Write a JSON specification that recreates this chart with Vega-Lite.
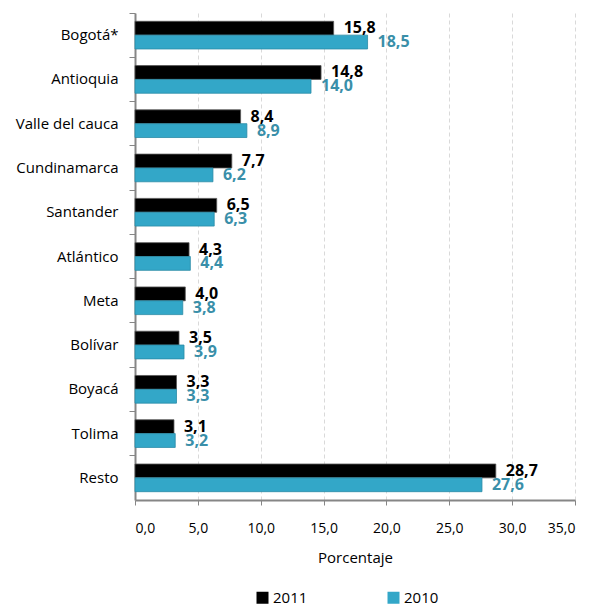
{
  "$schema": "https://vega.github.io/schema/vega-lite/v6.json",
  "width": 440,
  "height": 487,
  "autosize": {"type": "none"},
  "padding": {"left": 135, "top": 13, "right": 16, "bottom": 108},
  "config": {
    "locale": {"number": {"decimal": ",", "thousands": ".", "grouping": [3], "currency": ["$", ""]}},
    "view": {"stroke": null},
    "font": "Open Sans"
  },
  "data": {
    "values": [
      {"dep": "Bogotá*", "year": "2011", "value": 15.8},
      {"dep": "Bogotá*", "year": "2010", "value": 18.5},
      {"dep": "Antioquia", "year": "2011", "value": 14.8},
      {"dep": "Antioquia", "year": "2010", "value": 14.0},
      {"dep": "Valle del cauca", "year": "2011", "value": 8.4},
      {"dep": "Valle del cauca", "year": "2010", "value": 8.9},
      {"dep": "Cundinamarca", "year": "2011", "value": 7.7},
      {"dep": "Cundinamarca", "year": "2010", "value": 6.2},
      {"dep": "Santander", "year": "2011", "value": 6.5},
      {"dep": "Santander", "year": "2010", "value": 6.3},
      {"dep": "Atlántico", "year": "2011", "value": 4.3},
      {"dep": "Atlántico", "year": "2010", "value": 4.4},
      {"dep": "Meta", "year": "2011", "value": 4.0},
      {"dep": "Meta", "year": "2010", "value": 3.8},
      {"dep": "Bolívar", "year": "2011", "value": 3.5},
      {"dep": "Bolívar", "year": "2010", "value": 3.9},
      {"dep": "Boyacá", "year": "2011", "value": 3.3},
      {"dep": "Boyacá", "year": "2010", "value": 3.3},
      {"dep": "Tolima", "year": "2011", "value": 3.1},
      {"dep": "Tolima", "year": "2010", "value": 3.2},
      {"dep": "Resto", "year": "2011", "value": 28.7},
      {"dep": "Resto", "year": "2010", "value": 27.6}
    ]
  },
  "encoding": {
    "y": {
      "field": "dep",
      "type": "nominal",
      "sort": null,
      "scale": {"paddingInner": 0, "paddingOuter": 0},
      "axis": {
        "title": null,
        "bandPosition": 0,
        "domainColor": "#868686",
        "domainWidth": 2,
        "tickColor": "#868686",
        "tickSize": 6,
        "tickWidth": 1,
        "labelFontSize": 15,
        "labelColor": "#000000",
        "labelPadding": 11,
        "grid": false
      }
    },
    "yOffset": {
      "field": "year",
      "type": "nominal",
      "sort": ["2011", "2010"],
      "scale": {"paddingInner": 0, "paddingOuter": 0.6}
    },
    "x": {
      "field": "value",
      "type": "quantitative",
      "scale": {"domain": [0, 35], "nice": false},
      "axis": {
        "title": "Porcentaje",
        "values": [0, 5, 10, 15, 20, 25, 30, 35],
        "format": ".1f",
        "domainColor": "#868686",
        "domainWidth": 2,
        "tickColor": "#868686",
        "tickSize": 5,
        "labelFontSize": 14,
        "labelColor": "#000000",
        "labelPadding": 16,
        "titleFontSize": 15,
        "titleFontWeight": "normal",
        "titleColor": "#000000",
        "titlePadding": 15,
        "grid": true,
        "gridColor": "#d9d9d9",
        "gridDash": [4, 3],
        "gridWidth": 1
      }
    }
  },
  "layer": [
    {
      "mark": {"type": "bar", "strokeWidth": 0.8},
      "encoding": {
        "color": {
          "field": "year",
          "type": "nominal",
          "scale": {"domain": ["2011", "2010"], "range": ["#000000", "#33a7c8"]},
          "legend": {
            "title": null,
            "orient": "none",
            "direction": "horizontal",
            "legendX": 120,
            "legendY": 577,
            "symbolType": "square",
            "symbolSize": 144,
            "symbolStrokeWidth": 0,
            "labelFontSize": 15,
            "labelColor": "#000000",
            "labelOffset": 3,
            "columnPadding": 78
          }
        },
        "stroke": {
          "field": "year",
          "type": "nominal",
          "scale": {"domain": ["2011", "2010"], "range": ["#555555", "#2a8aa6"]},
          "legend": null
        }
      }
    },
    {
      "mark": {"type": "text", "align": "left", "baseline": "middle", "dx": 10, "fontSize": 16, "fontWeight": "bold"},
      "encoding": {
        "text": {"field": "value", "type": "quantitative", "format": ".1f"},
        "fill": {
          "field": "year",
          "type": "nominal",
          "scale": {"domain": ["2011", "2010"], "range": ["#000000", "#3a8fa9"]},
          "legend": null
        }
      }
    }
  ]
}
